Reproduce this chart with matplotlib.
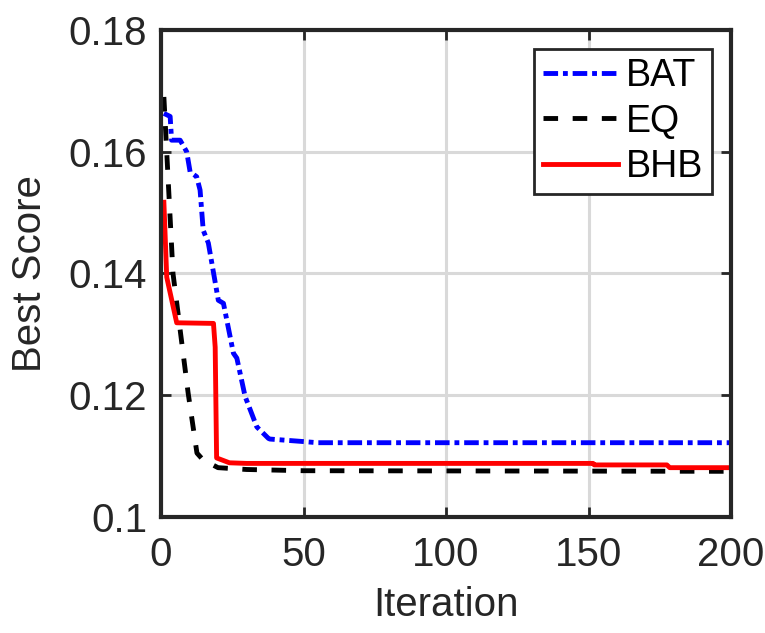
import numpy as np
import matplotlib
matplotlib.use("Agg")
import matplotlib.pyplot as plt

plt.rcParams['font.family'] = ['Liberation Sans', 'DejaVu Sans']

# convergence curves
bat_x = [1, 3.2, 3.7, 6.7, 9, 10.2, 12.5, 13.7, 14.8, 16.6, 20.1, 21.9, 25.4, 26.6, 29.5, 33.6, 37.7, 38.2, 48.8, 55, 200]
bat_y = [0.1663, 0.1658, 0.1619, 0.1619, 0.1600, 0.1567, 0.1559, 0.1537, 0.1471, 0.1450, 0.1356, 0.1351, 0.1269, 0.1261,
         0.1198, 0.1148, 0.1129, 0.1128, 0.11243, 0.1122, 0.1122]

eq_x = [1, 4.2, 9.5, 12.6, 14.7, 20, 30, 50, 200]
eq_y = [0.1690, 0.1400, 0.1204, 0.1105, 0.1094, 0.1081, 0.1078, 0.1076, 0.1075]

bhb_x = [1, 2, 5.5, 18.4, 19, 19.5, 24, 30, 151.6, 152, 177.5, 178.5, 200]
bhb_y = [0.1517, 0.1394, 0.1319, 0.1318, 0.1279, 0.1097, 0.1089, 0.1088, 0.1088, 0.10855, 0.10855, 0.1081, 0.1081]

fig = plt.figure(figsize=(7.65, 6.33), dpi=100)
ax = fig.add_axes([0.2105, 0.1833, 0.7451, 0.7693])

ax.plot(bat_x, bat_y, color='blue', ls=(0, (3, 1, 1, 1)), lw=3.5, label='BAT')
ax.plot(eq_x, eq_y, color='black', ls=(0, (3, 3)), lw=3.5, label='EQ')
ax.plot(bhb_x, bhb_y, color='red', ls='-', lw=3.5, label='BHB')

ax.set_xlim(0, 200)
ax.set_ylim(0.1, 0.18)
ax.set_xticks([0, 50, 100, 150, 200])
ax.set_yticks([0.1, 0.12, 0.14, 0.16, 0.18])
ax.set_yticklabels(['0.1', '0.12', '0.14', '0.16', '0.18'])
ax.grid(True, color='#d9d9d9', lw=2.2)
ax.set_axisbelow(True)
ax.tick_params(direction='in', length=7, width=2, top=True, right=True, labelsize=29, colors='#262626')
ax.tick_params(axis='x', pad=14)
ax.tick_params(axis='y', pad=10)
for s in ax.spines.values():
    s.set_linewidth(3)
    s.set_color('#262626')

ax.set_xlabel('Iteration', fontsize=29, color='#262626', labelpad=8)
ax.set_ylabel('Best Score', fontsize=29, color='#262626', labelpad=14)

leg = ax.legend(loc='upper right', fontsize=27, handlelength=2.0, handletextpad=0.2,
                fancybox=False, framealpha=1, borderpad=0.25, labelspacing=0.25, borderaxespad=0.5)
leg.get_frame().set_edgecolor('#262626')
leg.get_frame().set_linewidth(2)

fig.savefig('out.png', dpi=100)
